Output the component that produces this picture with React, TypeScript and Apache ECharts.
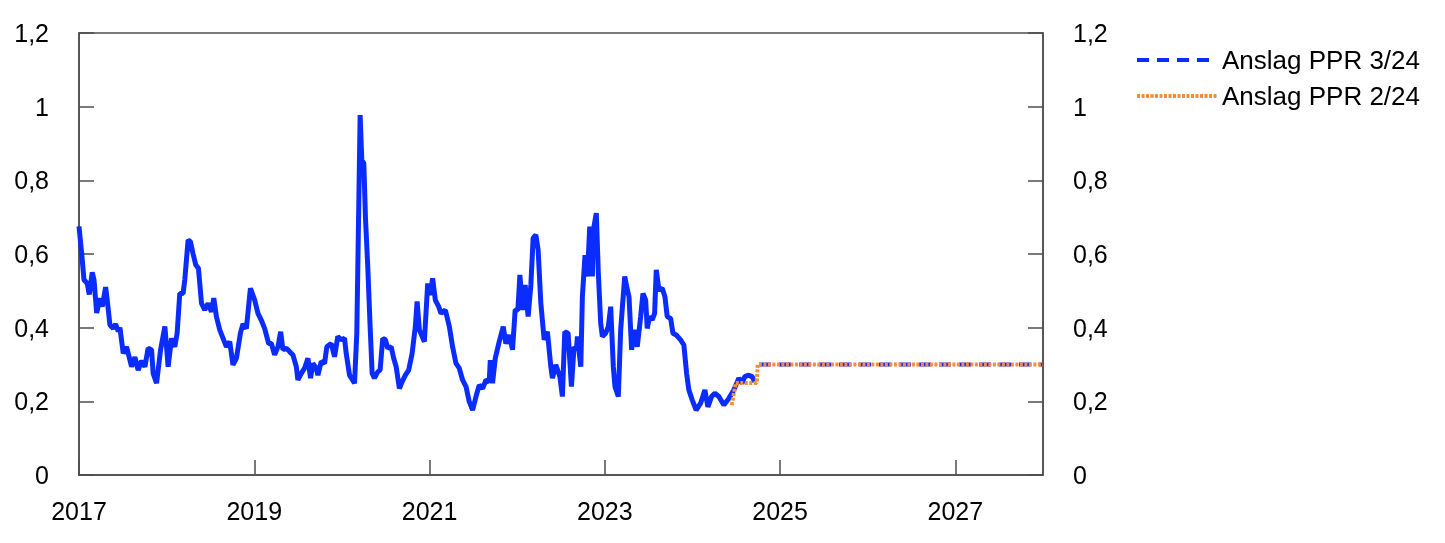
import React, { useEffect, useRef } from "react";
import * as echarts from "echarts";

const histYears = [
  2017.000, 2017.031, 2017.057, 2017.095, 2017.117, 2017.151, 2017.171, 2017.202, 2017.239, 2017.265,
  2017.304, 2017.322, 2017.353, 2017.391, 2017.418, 2017.448, 2017.467, 2017.505, 2017.543, 2017.600,
  2017.638, 2017.675, 2017.714, 2017.752, 2017.789, 2017.828, 2017.846, 2017.885, 2017.931, 2017.980,
  2018.017, 2018.056, 2018.093, 2018.120, 2018.150, 2018.188, 2018.207, 2018.245, 2018.272, 2018.302,
  2018.333, 2018.363, 2018.398, 2018.435, 2018.473, 2018.511, 2018.538, 2018.568, 2018.606, 2018.644,
  2018.682, 2018.720, 2018.757, 2018.796, 2018.842, 2018.871, 2018.910, 2018.956, 2019.005, 2019.042,
  2019.081, 2019.118, 2019.164, 2019.195, 2019.232, 2019.270, 2019.301, 2019.327, 2019.366, 2019.403,
  2019.441, 2019.480, 2019.498, 2019.537, 2019.574, 2019.612, 2019.642, 2019.669, 2019.707, 2019.726,
  2019.764, 2019.802, 2019.828, 2019.878, 2019.916, 2019.953, 2019.992, 2020.030, 2020.049, 2020.087,
  2020.144, 2020.170, 2020.208, 2020.227, 2020.250, 2020.269, 2020.295, 2020.322, 2020.345, 2020.371,
  2020.409, 2020.436, 2020.466, 2020.497, 2020.523, 2020.562, 2020.591, 2020.619, 2020.656, 2020.687,
  2020.724, 2020.762, 2020.801, 2020.838, 2020.858, 2020.884, 2020.941, 2020.979, 2021.009, 2021.035,
  2021.066, 2021.104, 2021.131, 2021.180, 2021.226, 2021.263, 2021.302, 2021.339, 2021.377, 2021.416,
  2021.453, 2021.491, 2021.530, 2021.567, 2021.605, 2021.644, 2021.681, 2021.693, 2021.719, 2021.750,
  2021.795, 2021.841, 2021.871, 2021.909, 2021.947, 2021.977, 2022.008, 2022.031, 2022.061, 2022.091,
  2022.125, 2022.156, 2022.182, 2022.213, 2022.239, 2022.270, 2022.308, 2022.345, 2022.384, 2022.402,
  2022.441, 2022.487, 2022.516, 2022.543, 2022.581, 2022.619, 2022.649, 2022.676, 2022.687, 2022.726,
  2022.744, 2022.774, 2022.801, 2022.828, 2022.858, 2022.869, 2022.903, 2022.926, 2022.953, 2022.972,
  2023.010, 2023.040, 2023.067, 2023.097, 2023.116, 2023.154, 2023.181, 2023.227, 2023.250, 2023.276,
  2023.306, 2023.333, 2023.370, 2023.409, 2023.435, 2023.466, 2023.484, 2023.511, 2023.541, 2023.568,
  2023.587, 2023.618, 2023.655, 2023.686, 2023.712, 2023.751, 2023.777, 2023.815, 2023.865, 2023.902,
  2023.933, 2023.959, 2023.997, 2024.042, 2024.093, 2024.142, 2024.176, 2024.218, 2024.255, 2024.301,
  2024.358, 2024.415, 2024.472, 2024.529, 2024.566, 2024.597, 2024.642, 2024.680, 2024.711,
];

const histValues = [
  0.675, 0.60, 0.53, 0.52, 0.49, 0.55, 0.53, 0.44, 0.48, 0.457,
  0.51, 0.475, 0.407, 0.398, 0.41, 0.39, 0.40, 0.33, 0.348, 0.294,
  0.32, 0.285, 0.31, 0.294, 0.344, 0.34, 0.276, 0.249, 0.34, 0.403,
  0.294, 0.371, 0.348, 0.385, 0.493, 0.493, 0.53, 0.638, 0.633, 0.60,
  0.57, 0.561, 0.466, 0.448, 0.466, 0.443, 0.48, 0.43, 0.394, 0.371,
  0.348, 0.362, 0.299, 0.317, 0.385, 0.41, 0.398, 0.507, 0.475, 0.439,
  0.42, 0.398, 0.357, 0.357, 0.326, 0.348, 0.389, 0.34, 0.344, 0.335,
  0.326, 0.294, 0.258, 0.276, 0.29, 0.317, 0.263, 0.303, 0.29, 0.271,
  0.308, 0.303, 0.348, 0.357, 0.321, 0.376, 0.367, 0.371, 0.33, 0.271,
  0.249, 0.385, 0.977, 0.855, 0.846, 0.697, 0.566, 0.403, 0.276, 0.263,
  0.28, 0.285, 0.371, 0.367, 0.344, 0.348, 0.317, 0.294, 0.235, 0.253,
  0.271, 0.285, 0.33, 0.403, 0.471, 0.394, 0.362, 0.52, 0.489, 0.534,
  0.475, 0.457, 0.439, 0.448, 0.403, 0.348, 0.303, 0.29, 0.258, 0.24,
  0.199, 0.176, 0.213, 0.244, 0.235, 0.258, 0.253, 0.312, 0.249, 0.317,
  0.362, 0.403, 0.357, 0.38, 0.34, 0.448, 0.448, 0.543, 0.448, 0.516,
  0.43, 0.516, 0.643, 0.652, 0.611, 0.466, 0.367, 0.389, 0.294, 0.263,
  0.299, 0.267, 0.213, 0.389, 0.385, 0.24, 0.348, 0.34, 0.376, 0.294,
  0.484, 0.597, 0.539, 0.674, 0.539, 0.665, 0.711, 0.548, 0.412, 0.376,
  0.385, 0.403, 0.457, 0.294, 0.24, 0.213, 0.394, 0.539, 0.511, 0.484,
  0.34, 0.394, 0.348, 0.43, 0.493, 0.475, 0.398, 0.43, 0.421, 0.439,
  0.557, 0.502, 0.507, 0.484, 0.43, 0.425, 0.385, 0.38, 0.367, 0.353,
  0.276, 0.231, 0.204, 0.176, 0.195, 0.231, 0.185, 0.213, 0.222, 0.213,
  0.19, 0.208, 0.231, 0.263, 0.249, 0.267, 0.271, 0.267, 0.253,
];

const ppr324Years = [2024.76, 2028.0];
const ppr324Values = [0.3, 0.3];

const ppr224Years = [2024.449, 2024.472, 2024.494, 2024.733, 2024.745, 2028.0];
const ppr224Values = [0.19, 0.22, 0.25, 0.25, 0.3, 0.3];

const xTickYears = [2017, 2019, 2021, 2023, 2025, 2027];

const NAME_324 = "Anslag PPR 3/24";
const NAME_224 = "Anslag PPR 2/24";

const BLUE = "#0a2cff";
const ORANGE = "#f28e3c";
const AXIS = "#4d4d4d";
const FONT = "Liberation Sans";
const FS = 25;

const zip = (xs: number[], ys: number[]) => xs.map((x, i) => [x, ys[i]]);

const yFmt = (v: number) => String(Math.round(v * 10) / 10).replace(".", ",");

export default function App() {
  const ref = useRef<HTMLDivElement>(null);
  useEffect(() => {
    if (!ref.current) return;
    const chart = echarts.init(ref.current, null, { renderer: "svg" });
    const yCommon = {
      type: "value",
      min: 0,
      max: 1.2,
      interval: 0.2,
      splitLine: { show: false },
      axisLine: { show: true, lineStyle: { color: AXIS, width: 1.5 } },
      axisTick: { show: true, inside: true, length: 15, lineStyle: { color: AXIS, width: 1.5 } },
      axisLabel: { formatter: yFmt, fontSize: FS, color: "#000", fontFamily: FONT, margin: 30 },
    };
    chart.setOption({
      animation: false,
      grid: {
        left: 79,
        right: 402,
        top: 33,
        bottom: 68,
        show: true,
        borderColor: AXIS,
        borderWidth: 1.5,
      },
      legend: {
        data: [NAME_324, NAME_224],
        orient: "vertical",
        left: 1135,
        top: 47,
        padding: 0,
        itemWidth: 80,
        itemHeight: 14,
        itemGap: 10,
        itemStyle: { opacity: 0 },
        lineStyle: { width: 4 },
        textStyle: { fontSize: 26, color: "#000", fontFamily: FONT },
      },
      xAxis: {
        type: "value",
        min: 2017,
        max: 2028,
        splitLine: { show: false },
        axisLine: { show: true, lineStyle: { color: AXIS, width: 1.5 } },
        axisTick: {
          show: true,
          inside: true,
          length: 15,
          customValues: xTickYears,
          lineStyle: { color: AXIS, width: 1.5 },
        },
        axisLabel: {
          customValues: xTickYears,
          formatter: (v: number) => String(v),
          fontSize: FS,
          color: "#000",
          fontFamily: FONT,
          margin: 23,
        },
      },
      yAxis: [
        { ...yCommon, position: "left" },
        { ...yCommon, position: "right" },
      ],
      series: [
        {
          name: "Historikk",
          type: "line",
          data: zip(histYears, histValues),
          showSymbol: false,
          symbol: "none",
          lineStyle: { color: BLUE, width: 5 },
          itemStyle: { color: BLUE },
          z: 2,
        },
        {
          name: NAME_324,
          type: "line",
          data: zip(ppr324Years, ppr324Values),
          showSymbol: false,
          symbol: "none",
          lineStyle: { color: BLUE, width: 4, type: [12, 8] },
          itemStyle: { color: BLUE },
          z: 3,
        },
        {
          name: NAME_224,
          type: "line",
          data: zip(ppr224Years, ppr224Values),
          showSymbol: false,
          symbol: "none",
          lineStyle: { color: ORANGE, width: 4, type: [3, 1.5] },
          itemStyle: { color: ORANGE },
          z: 4,
        },
      ],
    });
    return () => chart.dispose();
  }, []);
  return (
    <div
      ref={ref}
      style={{ position: "fixed", left: 0, top: 0, width: 1445, height: 543 }}
    />
  );
}
